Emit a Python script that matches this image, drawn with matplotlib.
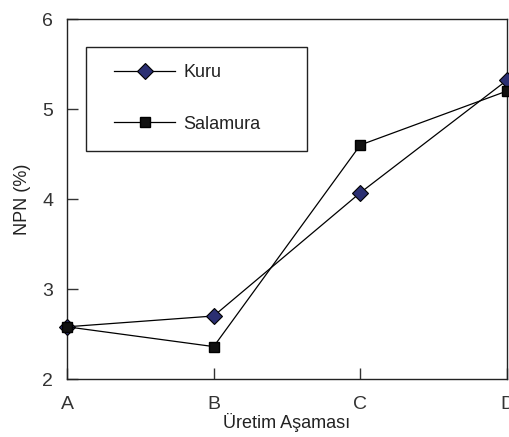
import matplotlib.pyplot as plt
from matplotlib.patches import Rectangle

# Üretim aşamaları ve NPN (%) değerleri
stages = ["A", "B", "C", "D"]
kuru = [2.58, 2.70, 4.07, 5.32]
salamura = [2.58, 2.36, 4.60, 5.20]

plt.rcParams['font.family'] = ['Liberation Sans Narrow', 'Liberation Sans', 'DejaVu Sans']

fig = plt.figure(figsize=(5.10, 4.37), dpi=100)
ax = fig.add_axes([67 / 510, 58 / 437, 440 / 510, 360 / 437])

x = list(range(len(stages)))
ax.plot(x, kuru, color="black", lw=0.9, marker="D", markersize=8,
        markerfacecolor="#2b2f72", markeredgecolor="black", markeredgewidth=0.8,
        label="Kuru", clip_on=False, zorder=3)
ax.plot(x, salamura, color="black", lw=0.9, marker="s", markersize=7,
        markerfacecolor="#111111", markeredgecolor="black",
        label="Salamura", clip_on=False, zorder=3)

ax.set_xlim(0, 3)
ax.set_ylim(2, 6)
ax.set_xticks(x)
ax.set_xticklabels(stages)
ax.set_yticks([2, 3, 4, 5, 6])
ax.tick_params(direction="in", length=8, width=1, labelsize=14,
               colors="#333333")
ax.tick_params(axis="y", pad=10)
ax.tick_params(axis="x", pad=12)

for s in ax.spines.values():
    s.set_linewidth(1)
    s.set_color("#222222")

ax.set_ylabel("NPN (%)", fontsize=13, labelpad=8, color="#222222")
ax.set_xlabel("Üretim Aşaması", fontsize=13, labelpad=0, color="#222222")

# legend box drawn separately
ax.add_patch(Rectangle((0.043, 0.633), 0.502, 0.289, transform=ax.transAxes,
                       fill=False, edgecolor="#222222", lw=1, zorder=4))
leg = ax.legend(loc="upper left", bbox_to_anchor=(0.107, 0.874), frameon=False,
                fontsize=13, handlelength=3.4, labelspacing=1.9, borderpad=0,
                handletextpad=0.45, borderaxespad=0)
for t in leg.get_texts():
    t.set_color("#222222")

fig.savefig("out.png", dpi=100)
